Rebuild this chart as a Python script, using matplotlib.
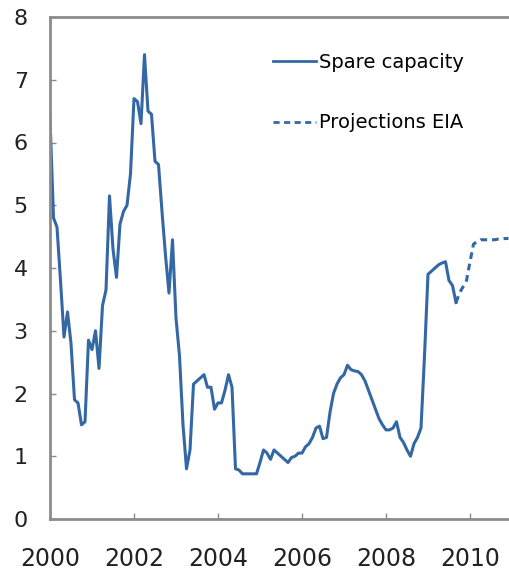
import numpy as np
import matplotlib
matplotlib.use("Agg")
import matplotlib.pyplot as plt

# monthly spare capacity (mb/d), Jan 2000 .. Sep 2009
spare_capacity = [
    6.4, 4.8, 4.65, 3.8, 2.9, 3.3, 2.8, 1.9, 1.85, 1.5, 1.55, 2.85,  # 2000
    2.7, 3.0, 2.4, 3.4, 3.65, 5.15, 4.3, 3.85, 4.7, 4.9, 5.0, 5.5,   # 2001
    6.7, 6.65, 6.3, 7.4, 6.5, 6.45, 5.7, 5.65, 4.9, 4.2, 3.6, 4.45,  # 2002
    3.2, 2.6, 1.5, 0.8, 1.1, 2.15, 2.2, 2.25, 2.3, 2.1, 2.1, 1.75,   # 2003
    1.85, 1.85, 2.05, 2.3, 2.1, 0.8, 0.78, 0.72, 0.72, 0.72, 0.72, 0.72,  # 2004
    0.9, 1.1, 1.05, 0.95, 1.1, 1.05, 1.0, 0.95, 0.9, 0.98, 1.0, 1.05,     # 2005
    1.05, 1.15, 1.2, 1.3, 1.45, 1.48, 1.28, 1.3, 1.7, 2.0, 2.15, 2.25,    # 2006
    2.3, 2.45, 2.38, 2.36, 2.35, 2.3, 2.2, 2.05, 1.9, 1.75, 1.6, 1.5,     # 2007
    1.42, 1.42, 1.45, 1.55, 1.3, 1.22, 1.1, 1.0, 1.2, 1.3, 1.45, 2.6,     # 2008
    3.9, 3.95, 4.0, 4.05, 4.08, 4.1, 3.8, 3.72, 3.45,                     # 2009
]
# EIA projections, Sep 2009 onwards
projections_eia = [3.45, 3.6, 3.7, 3.8, 4.1, 4.38, 4.42, 4.45, 4.45, 4.45,
                   4.45, 4.45, 4.46, 4.46, 4.47, 4.47]

start_year = 2000
x_ticks = [2000, 2002, 2004, 2006, 2008, 2010]
y_ticks = [0, 1, 2, 3, 4, 5, 6, 7, 8]

blue = "#3468a4"
grey = "#8c8c8c"

months = np.arange(len(spare_capacity))
dates = start_year + months / 12
proj_dates = start_year + (len(spare_capacity) - 1 + np.arange(len(projections_eia))) / 12

plt.rcParams["font.family"] = ["DejaVu Sans"]

fig = plt.figure(figsize=(5.10, 5.73), dpi=100)
ax = fig.add_axes([50 / 510, 1 - 519 / 573, 462 / 510, 502 / 573])

ax.plot(dates, spare_capacity, color=blue, lw=2.2, label="Spare capacity",
        solid_joinstyle="round")
ax.plot(proj_dates, projections_eia, color=blue, lw=2.2, ls=(0, (2.2, 1.6)),
        label="Projections EIA")

ax.set_xlim(2000, 2011)
ax.set_ylim(0, 8)
ax.set_xticks(x_ticks)
ax.set_yticks(y_ticks)
ax.tick_params(direction="in", length=4, width=1, color=grey,
               labelcolor="#222222")
ax.tick_params(axis="y", pad=16, labelsize=16)
ax.tick_params(axis="x", pad=20, labelsize=17)

for side in ["left", "top", "bottom"]:
    ax.spines[side].set_color(grey)
    ax.spines[side].set_linewidth(2)
ax.spines["right"].set_visible(False)

leg = ax.legend(loc="upper left", bbox_to_anchor=(0.445, 0.964), frameon=False,
                fontsize=14, handlelength=2.2, handletextpad=0.15,
                labelspacing=2.15)
for h in leg.get_lines():
    h.set_linewidth(2)

fig.savefig("out.png", dpi=100)
